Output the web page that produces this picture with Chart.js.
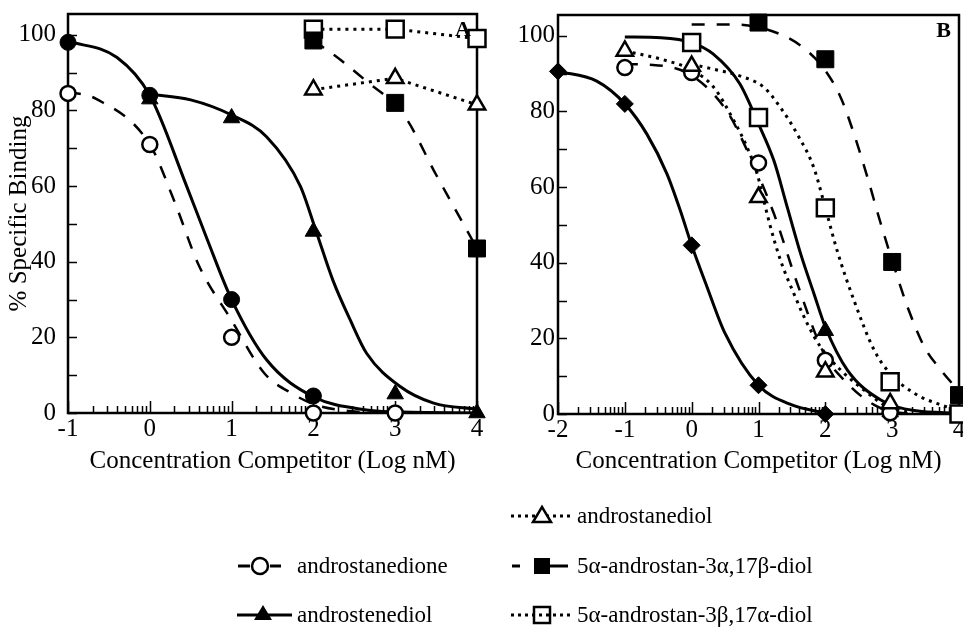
<!DOCTYPE html>
<html>
<head>
<meta charset="utf-8">
<script src="https://cdn.jsdelivr.net/npm/chart.js@4.4.1/dist/chart.umd.min.js"></script>
<style>
  body { margin: 0; background: #fff; }
  #page { position: relative; width: 963px; height: 628px; overflow: hidden; background: #fff;
          font-family: "Liberation Serif", "Times New Roman", serif; }
  #chartA { position: absolute; left: 0; top: 0; }
  #chartB { position: absolute; left: 480px; top: 0; }
  #keys { position: absolute; left: 0; top: 0; }
  .key { position: absolute; font-size: 23px; line-height: 30px; white-space: nowrap; color: #000; }
</style>
</head>
<body>
<div id="page">
  <canvas id="chartA" width="490" height="480"></canvas>
  <canvas id="chartB" width="483" height="480"></canvas>

  <svg id="keys" width="963" height="628">
    <!-- androstanedione -->
    <line x1="238" y1="566" x2="250" y2="566" stroke="#000" stroke-width="3"/>
    <line x1="270" y1="566" x2="281" y2="566" stroke="#000" stroke-width="3"/>
    <circle cx="260" cy="566" r="8" fill="#fff" stroke="#000" stroke-width="2.5"/>
    <!-- androstenediol -->
    <line x1="237" y1="615" x2="292" y2="615" stroke="#000" stroke-width="3"/>
    <polygon points="263,605 272,620 254,620" fill="#000"/>
    <!-- androstanediol -->
    <line x1="511" y1="516" x2="570" y2="516" stroke="#000" stroke-width="3" stroke-dasharray="3,4"/>
    <polygon points="542,507 551,522 533,522" fill="#fff" stroke="#000" stroke-width="2.5"/>
    <!-- 3a,17b -->
    <line x1="512" y1="566" x2="520" y2="566" stroke="#000" stroke-width="3"/>
    <line x1="550" y1="566" x2="568" y2="566" stroke="#000" stroke-width="3"/>
    <rect x="534" y="558" width="16" height="16" fill="#000"/>
    <!-- 3b,17a -->
    <line x1="511" y1="615" x2="570" y2="615" stroke="#000" stroke-width="3" stroke-dasharray="3,4"/>
    <rect x="534" y="607" width="16" height="16" fill="none" stroke="#000" stroke-width="2.5"/>
  </svg>
  <div class="key" style="left:297px;top:551px">androstanedione</div>
  <div class="key" style="left:297px;top:600px">androstenediol</div>
  <div class="key" style="left:577px;top:501px">androstanediol</div>
  <div class="key" style="left:577px;top:551px">5α-androstan-3α,17β-diol</div>
  <div class="key" style="left:577px;top:600px">5α-androstan-3β,17α-diol</div>
</div>

<script>
// shared axis values
const yTicks = [0, 20, 40, 60, 80, 100];
const yMinorTicks = [10, 30, 50, 70, 90];
const yMax = 105.5;

// ---- panel A ----
const aXTicks = [-1, 0, 1, 2, 3, 4];

// filled circles (solid fit)
const aCircX = [-1, 0, 1, 2];
const aCircY = [98, 84, 30, 4.5];
const aCircFitX = [-1, -0.4, 0, 0.45, 0.7, 1, 1.43, 2, 2.65, 3, 4];
const aCircFitY = [98.3, 94, 84, 60, 46, 30, 14, 4.3, 0.8, 0.3, 0];

// androstanedione, open circles (dashed fit)
const aDioneX = [-1, 0, 1, 2, 3];
const aDioneY = [84.5, 71, 20, 0, 0];
const aDioneFitX = [-1, -0.65, 0, 0.3, 0.6, 1, 1.4, 1.75, 2.05, 2.45, 3];
const aDioneFitY = [85, 83, 71, 56, 39, 24.5, 10.5, 5, 2, 0.5, 0];

// androstenediol, filled triangles (solid fit)
const aEnediolX = [0, 1, 2, 3, 4];
const aEnediolY = [83, 78, 48, 5, 0];
const aEnediolFitX = [0, 0.5, 1, 1.43, 1.84, 2.04, 2.24, 2.45, 2.65, 3.06, 3.47, 4];
const aEnediolFitY = [84.3, 82.8, 78.8, 73, 60, 47.6, 35, 24.6, 15.8, 7, 2.6, 1];

// androstanediol, open triangles (dotted)
const aAnediolX = [2, 3, 4];
const aAnediolY = [85.5, 88.5, 81.5];

// 5a-androstan-3a,17b-diol, filled squares (dashed fit)
const aDiol3aX = [2, 3, 4];
const aDiol3aY = [98.5, 82, 43.5];
const aDiol3aFitX = [2, 2.33, 2.65, 3.1, 3.5, 4];
const aDiol3aFitY = [98.5, 93.4, 87.7, 79, 63, 43.5];

// 5a-androstan-3b,17a-diol, open squares (dotted)
const aDiol3bX = [2, 3, 4];
const aDiol3bY = [101.5, 101.5, 99];

// ---- panel B ----
const bXTicks = [-2, -1, 0, 1, 2, 3, 4];

// filled diamonds (solid fit)
const bDiamX = [-2, -1, 0, 1, 2];
const bDiamY = [90.6, 82, 44.6, 7.6, 0];
const bDiamFitX = [-2, -1.42, -1, -0.67, -0.37, -0.17, 0, 0.23, 0.5, 1, 1.5, 2];
const bDiamFitY = [90.6, 88, 82, 74, 63.5, 53.8, 44.6, 33.6, 21.3, 7.6, 2.4, 0.3];

// androstanedione
const bDioneX = [-1, 0, 1, 2, 2.97];
const bDioneY = [91.6, 90.3, 66.4, 14.2, 0.3];
const bDioneFitX = [-1, -0.58, 0, 0.53, 0.83, 1.23, 1.58, 1.98, 2.33, 2.73, 3.08, 3.5];
const bDioneFitY = [92.5, 92.3, 89.5, 80, 69.7, 53, 34.5, 16, 8.1, 2.4, 0.4, 0.1];

// androstanediol
const bAnediolX = [-1, 0, 1, 2, 2.97];
const bAnediolY = [96, 92, 57.3, 11.2, 2.8];
const bAnediolFitX = [-1, -0.37, 0, 0.33, 0.63, 0.83, 0.98, 1.08, 1.18, 1.33, 1.53, 1.73, 1.93, 2.23, 2.58, 2.93, 3.3];
const bAnediolFitY = [96, 93.4, 91, 86.4, 77.6, 70.5, 63.5, 56.4, 49.4, 40.6, 31.8, 23.9, 17.7, 11.6, 6.3, 1.9, 0.3];

// androstenediol
const bEnediolX = [2, 2.97];
const bEnediolY = [22, 0.5];
const bEnediolFitX = [-1, -0.46, 0, 0.32, 0.72, 1, 1.23, 1.43, 1.63, 1.83, 2, 2.33, 2.83, 3.33, 4];
const bEnediolFitY = [99.7, 99.5, 98.2, 95.2, 87.3, 76.7, 67, 54.7, 42.4, 31.8, 23, 11.6, 3.7, 0.9, 0.2];

// 5a-androstan-3b,17a-diol
const bDiol3bX = [0, 1, 2, 2.97, 4];
const bDiol3bY = [98.2, 78.4, 54.5, 8.5, 0];
const bDiol3bFitX = [0, 0.32, 0.72, 1.08, 1.33, 1.58, 1.83, 2, 2.18, 2.43, 2.73, 2.97, 3.33, 3.73, 4];
const bDiol3bFitY = [92.5, 91.2, 89.4, 86.4, 81, 74, 65, 54.5, 43, 30, 16.9, 10.7, 5.5, 2.4, 1];

// 5a-androstan-3a,17b-diol
const bDiol3aX = [1, 2, 3, 4];
const bDiol3aY = [103.5, 93.8, 40.2, 5];
const bDiol3aFitX = [0, 0.6, 1.33, 1.73, 2, 2.23, 2.43, 2.63, 2.83, 3.03, 3.23, 3.48, 3.73, 4];
const bDiol3aFitY = [103, 103, 100.4, 96, 90.8, 83.7, 74, 62.6, 50.3, 38.9, 28.3, 17.8, 11.6, 6];


Chart.defaults.font.family = '"Liberation Serif", "Times New Roman", serif';
Chart.defaults.font.size = 25;
Chart.defaults.color = '#000';

function pts(xs, ys) {
  return xs.map((x, i) => ({ x: x, y: ys[i] }));
}

function marks(label, xs, ys, style, filled, r) {
  return {
    label: label, data: pts(xs, ys), showLine: false,
    pointStyle: style, pointRadius: r,
    pointBackgroundColor: filled ? '#000' : '#fff',
    pointBorderColor: '#000', pointBorderWidth: filled ? 1 : 2.5,
    clip: false, order: 0
  };
}

function curve(label, xs, ys, kind, smooth) {
  return {
    label: label, data: pts(xs, ys), showLine: true, pointRadius: 0,
    borderColor: '#000',
    borderWidth: kind === 'solid' ? 3 : (kind === 'dash' ? 2.5 : 3),
    borderDash: kind === 'dash' ? [13, 12] : (kind === 'dot' ? [3, 5] : []),
    cubicInterpolationMode: smooth ? 'monotone' : 'default',
    tension: 0, order: 5
  };
}

// frame, inward ticks, panel letter
const framePlugin = {
  id: 'frame',
  beforeDatasetsDraw(chart, args, opts) {
    const { ctx, chartArea: a, scales: { x, y } } = chart;
    ctx.save();
    ctx.strokeStyle = '#000';
    ctx.lineWidth = 1.5;
    ctx.beginPath();
    yTicks.concat(yMinorTicks).forEach(v => {
      const py = Math.round(y.getPixelForValue(v)) + 0.5;
      ctx.moveTo(a.left, py); ctx.lineTo(a.left + 9, py);
    });
    opts.xTicks.forEach(v => {
      const px = Math.round(x.getPixelForValue(v)) + 0.5;
      ctx.moveTo(px, a.bottom); ctx.lineTo(px, a.bottom - 12);
    });
    for (let d = x.min; d < x.max; d++) {
      for (let k = 2; k <= 9; k++) {
        const px = Math.round(x.getPixelForValue(d + Math.log10(k))) + 0.5;
        ctx.moveTo(px, a.bottom); ctx.lineTo(px, a.bottom - 7);
      }
    }
    ctx.stroke();
    ctx.lineWidth = 2.5;
    ctx.strokeRect(a.left, a.top, a.right - a.left, a.bottom - a.top);
    ctx.restore();
  },
  afterDraw(chart, args, opts) {
    const { ctx, chartArea: a } = chart;
    ctx.save();
    ctx.font = 'bold 22px "Liberation Serif"';
    ctx.fillStyle = '#000';
    ctx.textAlign = 'right';
    ctx.textBaseline = 'middle';
    ctx.fillText(opts.letter, a.right - opts.dx, a.top + 16);
    ctx.restore();
  }
};

function makeChart(id, datasets, p) {
  return new Chart(document.getElementById(id), {
    type: 'scatter',
    data: { datasets: datasets },
    plugins: [framePlugin],
    options: {
      responsive: false,
      animation: false,
      events: [],
      layout: { autoPadding: false, padding: { left: 0, top: p.top, right: p.right, bottom: 0 } },
      plugins: {
        legend: { display: false },
        tooltip: { enabled: false },
        frame: { letter: p.letter, dx: p.dx, xTicks: p.xTicks }
      },
      scales: {
        x: {
          type: 'linear', min: p.xTicks[0], max: p.xTicks[p.xTicks.length - 1],
          grid: { display: false, drawTicks: false },
          border: { display: false },
          afterBuildTicks: s => { s.ticks = p.xTicks.map(v => ({ value: v })); },
          afterFit: s => { s.height = p.xH; s.paddingLeft = 0; s.paddingRight = 0; },
          ticks: { padding: 1, maxRotation: 0, autoSkip: false, font: { size: 25 } },
          title: { display: true, text: 'Concentration Competitor (Log nM)', font: { size: 25 }, padding: { top: 0, bottom: 4 } }
        },
        y: {
          type: 'linear', min: 0, max: yMax,
          grid: { display: false, drawTicks: false },
          border: { display: false },
          afterBuildTicks: s => { s.ticks = yTicks.map(v => ({ value: v })); },
          afterFit: s => { s.width = p.yW; s.paddingTop = 0; s.paddingBottom = 0; },
          ticks: { padding: p.yPad, font: { size: 25 } },
          title: { display: p.yTitle, text: '% Specific Binding', font: { size: 25 }, padding: { top: 4, bottom: 0 } }
        }
      }
    }
  });
}

makeChart('chartA', [
  marks('filled circles', aCircX, aCircY, 'circle', true, 8),
  marks('androstanedione', aDioneX, aDioneY, 'circle', false, 7.5),
  marks('androstenediol', aEnediolX, aEnediolY, 'triangle', true, 9.5),
  marks('androstanediol', aAnediolX, aAnediolY, 'triangle', false, 9.5),
  marks('5α-androstan-3α,17β-diol', aDiol3aX, aDiol3aY, 'rect', true, 12),
  marks('5α-androstan-3β,17α-diol', aDiol3bX, aDiol3bY, 'rect', false, 12),
  curve('filled circles fit', aCircFitX, aCircFitY, 'solid', true),
  curve('androstanedione fit', aDioneFitX, aDioneFitY, 'dash', true),
  curve('androstenediol fit', aEnediolFitX, aEnediolFitY, 'solid', true),
  curve('androstanediol line', aAnediolX, aAnediolY, 'dot', false),
  curve('5α-androstan-3α,17β-diol fit', aDiol3aFitX, aDiol3aFitY, 'dash', true),
  curve('5α-androstan-3β,17α-diol line', aDiol3bX, aDiol3bY, 'dot', false)
], { top: 14, right: 13, xH: 67, yW: 68, yPad: 12, yTitle: true, letter: 'A', dx: 6, xTicks: aXTicks });

makeChart('chartB', [
  marks('5α-androstan-3β,17α-diol', bDiol3bX, bDiol3bY, 'rect', false, 12),
  marks('androstanediol', bAnediolX, bAnediolY, 'triangle', false, 9.5),
  marks('androstanedione', bDioneX, bDioneY, 'circle', false, 7.5),
  marks('androstenediol', bEnediolX, bEnediolY, 'triangle', true, 9.5),
  marks('5α-androstan-3α,17β-diol', bDiol3aX, bDiol3aY, 'rect', true, 12),
  marks('filled diamonds', bDiamX, bDiamY, 'rectRot', true, 8.5),
  curve('filled diamonds fit', bDiamFitX, bDiamFitY, 'solid', true),
  curve('androstanedione fit', bDioneFitX, bDioneFitY, 'dash', true),
  curve('androstanediol fit', bAnediolFitX, bAnediolFitY, 'dot', true),
  curve('androstenediol fit', bEnediolFitX, bEnediolFitY, 'solid', true),
  curve('5α-androstan-3β,17α-diol fit', bDiol3bFitX, bDiol3bFitY, 'dot', true),
  curve('5α-androstan-3α,17β-diol fit', bDiol3aFitX, bDiol3aFitY, 'dash', true)
], { top: 15, right: 4, xH: 66, yW: 78, yPad: 3, yTitle: false, letter: 'B', dx: 8, xTicks: bXTicks });
</script>
</body>
</html>
